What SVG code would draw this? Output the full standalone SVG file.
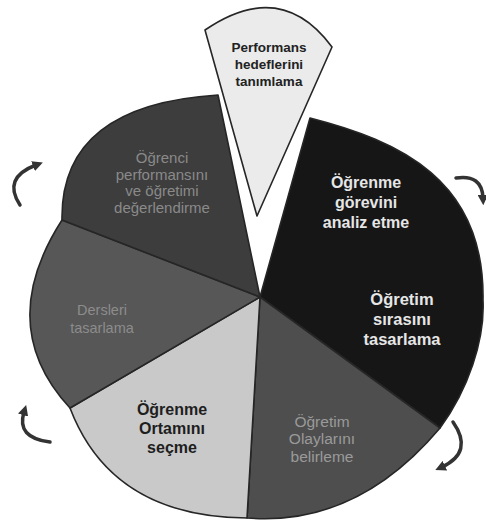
<svg xmlns="http://www.w3.org/2000/svg" width="486" height="524" viewBox="0 0 486 524">
<defs>
<style>
.sl{stroke:#262626;stroke-width:1.6;stroke-linejoin:round}
text{font-family:"Liberation Sans",Arial,sans-serif;text-anchor:middle}
.b{font-weight:bold}
.arr{fill:none;stroke:#333;stroke-width:3.5;stroke-linecap:round}
</style>
<marker id="ah" viewBox="0 0 10 10" refX="3" refY="5" markerWidth="3" markerHeight="3" orient="auto" markerUnits="strokeWidth">
<path d="M0,0 L10,5 L0,10 Z" fill="#333"/>
</marker>
</defs>
<rect width="486" height="524" fill="#ffffff"/>
<g id="n-perf">
<path class="sl" d="M257 216 L205 30 Q281 -22 332 47 Z" fill="#ebebeb"/>
<text class="b" font-size="13.5" fill="#222"><tspan x="269" y="52">Performans</tspan><tspan x="269" y="69">hedeflerini</tspan><tspan x="269" y="86">tanımlama</tspan></text>
</g>
<g id="n-analiz">
<path class="sl" d="M260 297 L310 118 C400 141 485 180 483 300 C485 340 468 390 440 428 Z" fill="#161616"/>
<text class="b" font-size="16" fill="#e6e6e6"><tspan x="366" y="188">Öğrenme</tspan><tspan x="366" y="208">görevini</tspan><tspan x="366" y="228">analiz etme</tspan></text>
</g>
<g id="n-sira">
<text class="b" font-size="16.5" fill="#e6e6e6"><tspan x="402" y="305">Öğretim</tspan><tspan x="402" y="325">sırasını</tspan><tspan x="402" y="345">tasarlama</tspan></text>
</g>
<g id="n-olay">
<path class="sl" d="M260 297 L440 428 Q356.5 527 247 518 Z" fill="#4e4e4e"/>
<text font-size="15.5" fill="#9a9a9a"><tspan x="322" y="427">Öğretim</tspan><tspan x="322" y="444">Olaylarını</tspan><tspan x="322" y="462">belirleme</tspan></text>
</g>
<g id="n-ortam">
<path class="sl" d="M260 297 L247 518 Q111.5 517 70 408 Z" fill="#c9c9c9"/>
<text class="b" font-size="16" fill="#1e1e1e"><tspan x="172" y="415">Öğrenme</tspan><tspan x="172" y="434">Ortamını</tspan><tspan x="172" y="453">seçme</tspan></text>
</g>
<g id="n-ders">
<path class="sl" d="M260 297 L70 408 Q-6 326 62 220 Z" fill="#575757"/>
<text font-size="14.5" fill="#8c8c8c"><tspan x="102" y="315">Dersleri</tspan><tspan x="102" y="333">tasarlama</tspan></text>
</g>
<g id="n-ogrenci">
<path class="sl" d="M260 297 L62 220 Q60 105 218 95 Z" fill="#3d3d3d"/>
<text font-size="15" fill="#8a8a8a"><tspan x="162" y="163">Öğrenci</tspan><tspan x="162" y="179.5">performansını</tspan><tspan x="162" y="196">ve öğretimi</tspan><tspan x="162" y="212.5">değerlendirme</tspan></text>
</g>
<g id="connectors">
<path class="arr" marker-end="url(#ah)" d="M20 205 Q2 178 36 165"/>
<path class="arr" marker-end="url(#ah)" d="M456 178 Q482 174 483 198"/>
<path class="arr" marker-end="url(#ah)" d="M453 422 Q474 452 442 467"/>
<path class="arr" marker-end="url(#ah)" d="M50 442 Q16 438 24 412"/>
</g>
</svg>
